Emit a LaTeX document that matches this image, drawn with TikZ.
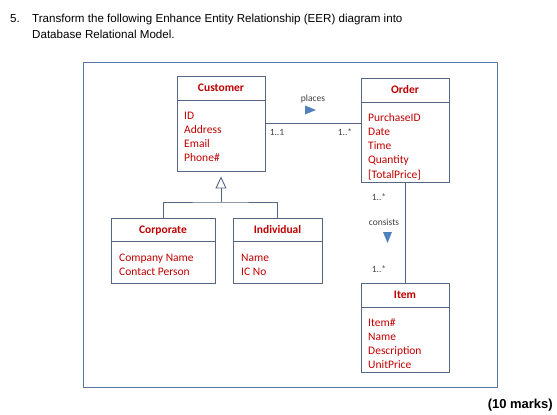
\documentclass[tikz,border=0pt]{standalone}
\usepackage{fontspec}
\setmainfont{Liberation Sans}
\newfontfamily\calfont{Carlito}
\usetikzlibrary{arrows.meta}
\definecolor{bordc}{RGB}{84,102,130}
\definecolor{framec}{RGB}{90,118,165}
\definecolor{redc}{RGB}{192,0,0}
\definecolor{grayc}{RGB}{64,64,64}
\definecolor{bluec}{RGB}{79,129,189}
\tikzset{
  entity/.style={draw=bordc, line width=0.9pt, rectangle, inner sep=0pt},
  hdr/.style={anchor=base, inner sep=0pt, text=redc, font=\calfont\fontsize{11.5}{13}\selectfont\bfseries},
  attr/.style={anchor=base west, inner sep=0pt, text=redc, font=\calfont\fontsize{11.5}{13}\selectfont},
  lbl/.style={anchor=base, inner sep=0pt, text=grayc, font=\calfont\fontsize{9.5}{11}\selectfont},
  conn/.style={draw=bordc, line width=0.9pt},
  divl/.style={draw=bordc, line width=0.9pt},
  title/.style={anchor=base west, inner sep=0pt, font=\fontsize{11.6}{14}\selectfont}
}
\begin{document}
\begin{tikzpicture}[x=1pt,y=-1pt]
\useasboundingbox (0,0) rectangle (557,415);
% title
\node[title] (num) at (10,22) {5.};
\node[title] (t1) at (32,22) {Transform the following Enhance Entity Relationship (EER) diagram into};
\node[title] (t2) at (32,38.5) {Database Relational Model.};
\node[title, anchor=base east, font=\fontsize{13}{14}\selectfont\bfseries] (marks) at (553,408) {(10 marks)};
% frame
\draw[framec, line width=0.9pt] (83,62) rectangle (497,387);
% entities
\node[entity, minimum width=88pt, minimum height=95pt] (cust) at (221,123.5) {};
\draw[divl] (cust.west |- 0,100) -- (cust.east |- 0,100);
\node[hdr] (custh) at (221,91.5) {Customer};
\foreach \t [count=\i from 0] in {ID,Address,Email,Phone\#}
  \node[attr] (ca\i) at (184,{119+\i*14.3}) {\t};

\node[entity, minimum width=88pt, minimum height=104pt] (ord) at (405,130) {};
\draw[divl] (ord.west |- 0,102) -- (ord.east |- 0,102);
\node[hdr] (ordh) at (405,93) {Order};
\foreach \t [count=\i from 0] in {PurchaseID,Date,Time,Quantity,{[TotalPrice]}}
  \node[attr] (oa\i) at (368,{121+\i*14.3}) {\t};

\node[entity, minimum width=104pt, minimum height=65pt] (corp) at (163,250.5) {};
\draw[divl] (corp.west |- 0,241) -- (corp.east |- 0,241);
\node[hdr] (corph) at (163,233) {Corporate};
\foreach \t [count=\i from 0] in {Company Name,Contact Person}
  \node[attr] (pa\i) at (119,{261+\i*14.2}) {\t};

\node[entity, minimum width=89pt, minimum height=65pt] (ind) at (277.5,250.5) {};
\draw[divl] (ind.west |- 0,241) -- (ind.east |- 0,241);
\node[hdr] (indh) at (277.5,233) {Individual};
\foreach \t [count=\i from 0] in {Name,IC No}
  \node[attr] (ia\i) at (241,{261+\i*14.2}) {\t};

\node[entity, minimum width=88pt, minimum height=89pt] (item) at (405,327.5) {};
\draw[divl] (item.west |- 0,307) -- (item.east |- 0,307);
\node[hdr] (itemh) at (405,298) {Item};
\foreach \t [count=\i from 0] in {Item\#,Name,Description,UnitPrice}
  \node[attr] (ma\i) at (368,{326+\i*14.1}) {\t};

% connectors
\draw[conn] (cust.east) -- (cust.east -| ord.west);
\draw[conn] (ord.south) -- (item.north);
\coordinate (jn) at (221,202);
\draw[conn] (corp.north) |- (jn) -| (ind.north);
\draw[conn, -{Triangle[open, length=12pt, width=11pt, line width=0.9pt]}, shorten >=5pt] (jn) -- (cust.south);

% labels
\node[lbl] (places) at (313,101) {places};
\fill[bluec] (305,105.5) -- (316,110) -- (305,114.5) -- cycle;
\node[lbl] (m11) at (277,135.5) {1..1};
\node[lbl] (m1s) at (345,135.5) {1..*};
\node[lbl] (m2s) at (379,200.5) {1..*};
\node[lbl] (consists) at (384,225) {consists};
\fill[bluec] (383,232) -- (392,232) -- (387.5,243) -- cycle;
\node[lbl] (m3s) at (379,272) {1..*};
\end{tikzpicture}
\end{document}
